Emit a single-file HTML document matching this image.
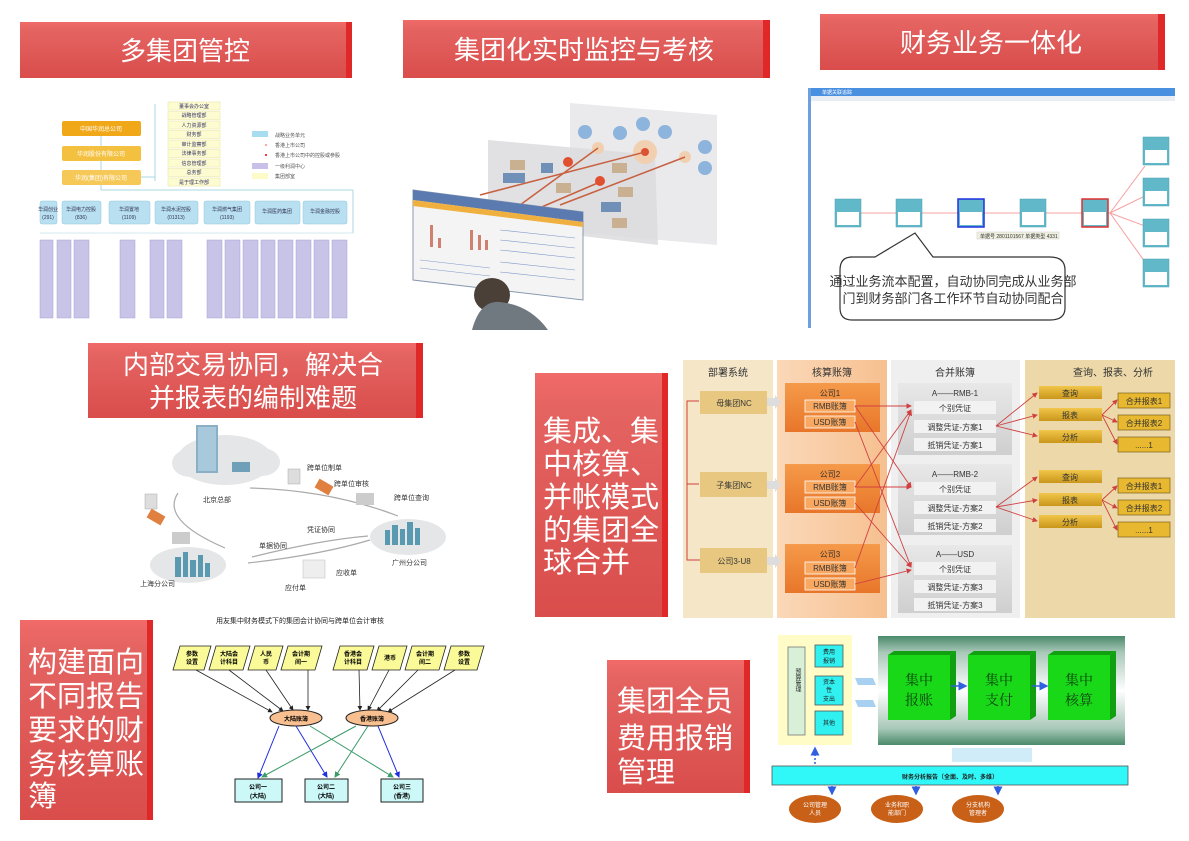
<!DOCTYPE html>
<html><head><meta charset="utf-8"><style>
html,body{margin:0;padding:0;background:#fff;}
svg{display:block;font-family:"Liberation Sans","Noto Sans CJK SC",sans-serif;}
</style></head><body>
<svg width="1189" height="841" viewBox="0 0 1189 841" xmlns="http://www.w3.org/2000/svg">
<defs>
<linearGradient id="rd" x1="0" y1="0" x2="0" y2="1"><stop offset="0" stop-color="#f06a68"/><stop offset="0.15" stop-color="#e46462"/><stop offset="1" stop-color="#d94d4b"/></linearGradient>
<linearGradient id="og" x1="0" y1="0" x2="0" y2="1"><stop offset="0" stop-color="#f59a4a"/><stop offset="1" stop-color="#e8762a"/></linearGradient>
<linearGradient id="gd" x1="0" y1="0" x2="0" y2="1"><stop offset="0" stop-color="#f0c64a"/><stop offset="1" stop-color="#c9961a"/></linearGradient>
<linearGradient id="gr" x1="0" y1="0" x2="0" y2="1"><stop offset="0" stop-color="#e8e8e8"/><stop offset="1" stop-color="#cfcfcf"/></linearGradient>
<linearGradient id="stripe" x1="0" y1="0" x2="0" y2="1"><stop offset="0" stop-color="#4a8a6a"/><stop offset="0.15" stop-color="#a8c8b8"/><stop offset="0.5" stop-color="#ffffff"/><stop offset="0.85" stop-color="#a8c8b8"/><stop offset="1" stop-color="#4a8a6a"/></linearGradient>
<linearGradient id="c2" x1="0" y1="0" x2="1" y2="0"><stop offset="0" stop-color="#fbd8b8"/><stop offset="1" stop-color="#f6c090"/></linearGradient>
<marker id="ar" markerWidth="6" markerHeight="6" refX="5" refY="3" orient="auto"><path d="M0,0L6,3L0,6z" fill="#d04040"/></marker>
<marker id="ak" markerWidth="6" markerHeight="6" refX="5" refY="3" orient="auto"><path d="M0,0L6,3L0,6z" fill="#222"/></marker>
<marker id="ab" markerWidth="6" markerHeight="6" refX="5" refY="3" orient="auto"><path d="M0,0L6,3L0,6z" fill="#2030e0"/></marker>
<marker id="ag" markerWidth="6" markerHeight="6" refX="5" refY="3" orient="auto"><path d="M0,0L6,3L0,6z" fill="#3a9a6a"/></marker>
<marker id="abl" markerWidth="6" markerHeight="6" refX="5" refY="3" orient="auto"><path d="M0,0L6,3L0,6z" fill="#3060e0"/></marker>
</defs>

<!-- Banners -->
<g>
<rect x="20" y="22" width="330" height="56" fill="url(#rd)"/><rect x="346" y="22" width="6" height="56" fill="#e02828"/>
<text x="185" y="60" font-size="26" fill="#fff" text-anchor="middle">多集团管控</text>
<rect x="403" y="20" width="362" height="58" fill="url(#rd)"/><rect x="763" y="20" width="7" height="58" fill="#e02828"/>
<text x="584" y="59" font-size="26" fill="#fff" text-anchor="middle">集团化实时监控与考核</text>
<rect x="820" y="14" width="340" height="56" fill="url(#rd)"/><rect x="1158" y="14" width="7" height="56" fill="#e02828"/>
<text x="991" y="52" font-size="26" fill="#fff" text-anchor="middle">财务业务一体化</text>
<rect x="88" y="343" width="330" height="75" fill="url(#rd)"/><rect x="416" y="343" width="7" height="75" fill="#e02828"/>
<text x="253" y="374" font-size="26" fill="#fff" text-anchor="middle">内部交易协同，解决合</text>
<text x="253" y="407" font-size="26" fill="#fff" text-anchor="middle">并报表的编制难题</text>
<rect x="535" y="373" width="128" height="244" fill="url(#rd)"/><rect x="662" y="373" width="6" height="244" fill="#e02828"/>
<g font-size="29" fill="#fff"><text x="543" y="441">集成、集</text><text x="543" y="474">中核算、</text><text x="543" y="507">并帐模式</text><text x="543" y="540">的集团全</text><text x="543" y="572">球合并</text></g>
<rect x="20" y="620" width="128" height="200" fill="url(#rd)"/><rect x="147" y="620" width="6" height="200" fill="#e02828"/>
<g font-size="29" fill="#fff"><text x="28" y="672">构建面向</text><text x="28" y="706">不同报告</text><text x="28" y="740">要求的财</text><text x="28" y="774">务核算账</text><text x="28" y="806">簿</text></g>
<rect x="607" y="660" width="138" height="133" fill="url(#rd)"/><rect x="744" y="660" width="6" height="133" fill="#e02828"/>
<g font-size="29" fill="#fff"><text x="617" y="711">集团全员</text><text x="617" y="748">费用报销</text><text x="617" y="782">管理</text></g>
</g>

<!-- Top-left org chart -->
<g font-size="6" fill="#555">
<line x1="101" y1="135" x2="101" y2="190" stroke="#a8d8e0"/>
<line x1="101" y1="190" x2="353" y2="190" stroke="#a8d8e0"/>
<line x1="140" y1="177" x2="155" y2="177" stroke="#a8d8e0"/><line x1="155" y1="104" x2="155" y2="181" stroke="#a8d8e0"/>
<rect x="62" y="121" width="79" height="15" rx="2" fill="#f0a818"/><text x="101" y="131" text-anchor="middle" fill="#fff">中国华润总公司</text>
<rect x="62" y="146" width="79" height="15" rx="2" fill="#f4c040"/><text x="101" y="156" text-anchor="middle" fill="#fff">华润股份有限公司</text>
<rect x="62" y="170" width="79" height="15" rx="2" fill="#f6c858"/><text x="101" y="180" text-anchor="middle" fill="#fff">华润(集团)有限公司</text>
<g fill="#fdfbd0" stroke="#e8e4a0" stroke-width="0.5">
<rect x="168" y="102" width="52" height="8"/><rect x="168" y="111.5" width="52" height="8"/><rect x="168" y="121" width="52" height="8"/><rect x="168" y="130.5" width="52" height="8"/><rect x="168" y="140" width="52" height="8"/><rect x="168" y="149.5" width="52" height="8"/><rect x="168" y="159" width="52" height="8"/><rect x="168" y="168.5" width="52" height="8"/><rect x="168" y="178" width="52" height="8"/></g>
<g font-size="5" fill="#336" text-anchor="middle"><text x="194" y="108">董事会办公室</text><text x="194" y="117">战略管理部</text><text x="194" y="127">人力资源部</text><text x="194" y="136">财务部</text><text x="194" y="146">审计监察部</text><text x="194" y="155">法律事务部</text><text x="194" y="165">信息管理部</text><text x="194" y="174">总务部</text><text x="194" y="184">是于理工作部</text></g>
<rect x="252" y="131" width="16" height="6" fill="#a8dcf0"/><text x="275" y="137" font-size="5">战略业务单元</text>
<text x="275" y="147" font-size="5">香港上市公司</text><circle cx="266" cy="145" r="1" fill="#f88"/>
<text x="275" y="157" font-size="5">香港上市公司中的控股或参股</text><circle cx="266" cy="155" r="1" fill="#e00"/>
<rect x="252" y="163" width="16" height="6" fill="#c8c0e8"/><text x="275" y="168" font-size="5">一级利润中心</text>
<rect x="252" y="173" width="16" height="6" fill="#fdfbc8"/><text x="275" y="178" font-size="5">集团部室</text>
<g fill="#b8e0f0" stroke="#90c8e0" stroke-width="0.5">
<rect x="40" y="201" width="17" height="23" rx="2"/><rect x="62" y="201" width="39" height="23" rx="2"/><rect x="109" y="201" width="41" height="23" rx="2"/><rect x="155" y="201" width="43" height="23" rx="2"/><rect x="204" y="201" width="46" height="23" rx="2"/><rect x="255" y="201" width="45" height="23" rx="2"/><rect x="303" y="201" width="44" height="23" rx="2"/></g>
<g font-size="5" text-anchor="middle" fill="#335"><text x="48" y="211">华润创业</text><text x="48" y="219">(291)</text><text x="81" y="211">华润电力控股</text><text x="81" y="219">(836)</text><text x="129" y="211">华润置地</text><text x="129" y="219">(1109)</text><text x="176" y="211">华润水泥控股</text><text x="176" y="219">(01313)</text><text x="227" y="211">华润燃气集团</text><text x="227" y="219">(1193)</text><text x="277" y="213">华润医药集团</text><text x="325" y="213">华润金融控股</text></g>
<line x1="353" y1="190" x2="353" y2="233" stroke="#a8d8e0"/>
<g fill="#c8c4e8" stroke="#a8a0d0" stroke-width="0.5">
<rect x="40" y="240" width="13" height="78"/><rect x="57" y="240" width="14" height="78"/><rect x="74" y="240" width="15" height="78"/>
<rect x="120" y="240" width="15" height="78"/><rect x="150" y="240" width="14" height="78"/><rect x="167" y="240" width="15" height="78"/>
<rect x="207" y="240" width="15" height="78"/><rect x="225" y="240" width="15" height="78"/><rect x="243" y="240" width="15" height="78"/><rect x="261" y="240" width="14" height="78"/><rect x="278" y="240" width="15" height="78"/><rect x="296" y="240" width="15" height="78"/><rect x="314" y="240" width="15" height="78"/><rect x="332" y="240" width="15" height="78"/></g>
<line x1="40" y1="233" x2="353" y2="233" stroke="#d0e8ee"/>
</g>

<!-- Top-middle monitoring image -->
<g>
<polygon points="570,103 717,115 717,245 570,232" fill="#e8e8ea" opacity="0.9"/>
<polygon points="488,140 655,155 658,245 488,225" fill="#dcdcde" opacity="0.85"/>
<g fill="#8cb4dc"><circle cx="585" cy="132" r="7"/><circle cx="620" cy="133" r="7"/><circle cx="643" cy="124" r="7"/><circle cx="665" cy="132" r="7"/><circle cx="705" cy="147" r="7"/><circle cx="705" cy="168" r="7"/></g>
<circle cx="645" cy="152" r="12" fill="#f0d0b0"/><circle cx="645" cy="152" r="4" fill="#e05030"/>
<circle cx="598" cy="148" r="6" fill="#f0d0b0"/><circle cx="685" cy="157" r="6" fill="#f0d0b0"/>
<g stroke="#c86040" stroke-width="1.5"><line x1="480" y1="195" x2="645" y2="152"/><line x1="520" y1="205" x2="598" y2="148"/><line x1="560" y1="205" x2="685" y2="157"/><line x1="530" y1="212" x2="600" y2="182"/></g>
<g fill="#c8b090"><rect x="510" y="160" width="15" height="10"/><rect x="612" y="163" width="15" height="10"/><rect x="556" y="183" width="15" height="10"/><rect x="618" y="187" width="15" height="10"/><rect x="612" y="218" width="15" height="10"/></g>
<g fill="#7090b8"><rect x="503" y="173" width="22" height="10"/><rect x="541" y="163" width="12" height="10"/><rect x="601" y="202" width="20" height="10"/></g>
<circle cx="568" cy="162" r="5" fill="#e05030"/><circle cx="600" cy="181" r="5" fill="#e05030"/>
<polygon points="413,190 583,212 583,300 413,280" fill="#f4f4f4" stroke="#8898b0"/>
<polygon points="413,190 583,212 583,222 413,200" fill="#5a7ab0"/>
<polygon points="413,200 583,222 583,227 413,206" fill="#f0b040"/>
<g fill="#d08070"><rect x="430" y="225" width="3" height="22"/><rect x="438" y="238" width="3" height="10"/><rect x="470" y="230" width="3" height="20"/><rect x="478" y="235" width="3" height="15"/><rect x="485" y="240" width="3" height="10"/></g>
<g stroke="#8098c8" stroke-width="0.6"><line x1="500" y1="230" x2="575" y2="238"/><line x1="500" y1="240" x2="575" y2="248"/><line x1="500" y1="250" x2="575" y2="258"/><line x1="500" y1="262" x2="575" y2="270"/><line x1="500" y1="272" x2="575" y2="280"/><line x1="420" y1="260" x2="490" y2="268"/><line x1="420" y1="268" x2="490" y2="276"/></g>
<ellipse cx="492" cy="295" rx="18" ry="17" fill="#4a4038"/>
<path d="M472,330 Q480,300 500,302 Q530,305 548,330 Z" fill="#707880"/>
</g>

<!-- Top-right screenshot -->
<g>
<rect x="808" y="88" width="367" height="240" fill="#fff"/>
<rect x="808" y="88" width="367" height="8" fill="#4a90e0"/>
<rect x="808" y="96" width="367" height="5" fill="#e8eef4"/>
<rect x="808" y="88" width="3" height="240" fill="#6ea0e0"/>
<text x="822" y="94" font-size="5" fill="#fff">单据关联追踪</text>
<g stroke="#f4a0a0" stroke-width="1"><line x1="861" y1="213" x2="1110" y2="213"/><line x1="1110" y1="213" x2="1145" y2="166"/><line x1="1110" y1="213" x2="1145" y2="196"/><line x1="1110" y1="213" x2="1145" y2="226"/><line x1="1110" y1="213" x2="1145" y2="262"/></g>
<g fill="#60b8c8" stroke="#4aa0b0" stroke-width="0.5">
<rect x="835" y="199" width="26" height="28"/><rect x="896" y="199" width="26" height="28"/><rect x="958" y="199" width="26" height="28"/><rect x="1020" y="199" width="26" height="28"/><rect x="1082" y="199" width="26" height="28"/>
<rect x="1143" y="137" width="26" height="28"/><rect x="1143" y="178" width="26" height="28"/><rect x="1143" y="219" width="26" height="28"/><rect x="1143" y="259" width="26" height="28"/></g>
<rect x="958" y="199" width="26" height="28" fill="none" stroke="#2030e0" stroke-width="1.5"/>
<rect x="1082" y="199" width="26" height="28" fill="none" stroke="#e03030" stroke-width="1.5"/>
<g fill="#fff"><rect x="837" y="212" width="22" height="13"/><rect x="898" y="212" width="22" height="13"/><rect x="960" y="212" width="22" height="13"/><rect x="1022" y="212" width="22" height="13"/><rect x="1084" y="212" width="22" height="13"/><rect x="1145" y="150" width="22" height="13"/><rect x="1145" y="191" width="22" height="13"/><rect x="1145" y="232" width="22" height="13"/><rect x="1145" y="272" width="22" height="13"/></g>
<rect x="977" y="232" width="82" height="7" fill="#f0f0e0" stroke="#ccc" stroke-width="0.5"/>
<text x="980" y="238" font-size="5" fill="#333">单据号 2801101567 单据类型 4331</text>
<path d="M850,257 L875,257 L915,233 L933,257 L1050,257 Q1065,257 1065,270 L1065,308 Q1065,320 1050,320 L852,320 Q840,320 840,308 L840,270 Q840,257 852,257 Z" fill="#fff" stroke="#333" stroke-width="1.2"/>
<text x="953" y="286" font-size="13" fill="#333" text-anchor="middle">通过业务流本配置，自动协同完成从业务部</text>
<text x="953" y="303" font-size="13" fill="#333" text-anchor="middle">门到财务部门各工作环节自动协同配合</text>
</g>

<!-- Middle-left network image -->
<g font-size="7" fill="#333">
<ellipse cx="225" cy="460" rx="48" ry="25" fill="#e4e6e8"/><ellipse cx="190" cy="463" rx="18" ry="14" fill="#e4e6e8"/><ellipse cx="262" cy="462" rx="18" ry="14" fill="#e4e6e8"/>
<rect x="196" y="425" width="22" height="48" fill="#8ab0c8"/><rect x="198" y="427" width="18" height="44" fill="#a8c8dc"/>
<rect x="232" y="462" width="18" height="10" fill="#70a0b8"/>
<text x="203" y="502">北京总部</text>
<ellipse cx="188" cy="565" rx="38" ry="18" fill="#e4e6e8"/>
<g fill="#5a9ab0"><rect x="175" y="557" width="6" height="20"/><rect x="183" y="552" width="5" height="25"/><rect x="190" y="560" width="6" height="17"/><rect x="198" y="555" width="5" height="22"/><rect x="205" y="563" width="5" height="14"/></g>
<text x="140" y="586">上海分公司</text>
<ellipse cx="408" cy="537" rx="38" ry="18" fill="#e4e6e8"/>
<g fill="#5a9ab0"><rect x="385" y="530" width="5" height="15"/><rect x="392" y="525" width="6" height="20"/><rect x="400" y="529" width="5" height="16"/><rect x="407" y="522" width="6" height="23"/><rect x="415" y="528" width="5" height="17"/></g>
<text x="392" y="565">广州分公司</text>
<g fill="none" stroke="#aaa" stroke-width="1.2">
<path d="M178,493 Q160,520 225,548"/><path d="M250,488 Q330,490 398,516"/><path d="M252,557 Q320,540 368,536"/><path d="M248,563 Q320,555 370,540"/></g>
<rect x="145" y="494" width="12" height="15" fill="#ddd" stroke="#aaa" stroke-width="0.5"/>
<rect x="148" y="512" width="16" height="10" fill="#e08040" transform="rotate(30 156 517)"/>
<rect x="172" y="532" width="18" height="12" fill="#ccc"/>
<rect x="288" y="469" width="12" height="15" fill="#ddd" stroke="#aaa" stroke-width="0.5"/>
<rect x="316" y="482" width="16" height="10" fill="#e08040" transform="rotate(30 324 487)"/>
<rect x="356" y="493" width="18" height="12" fill="#ccc"/>
<text x="307" y="470">跨单位制单</text><text x="334" y="486">跨单位审核</text><text x="394" y="500">跨单位查询</text>
<text x="307" y="532">凭证协同</text><text x="259" y="548">单据协同</text>
<rect x="303" y="560" width="22" height="18" fill="#eee" stroke="#bbb" stroke-width="0.5"/>
<text x="336" y="575">应收单</text><text x="285" y="590">应付单</text>
</g>

<!-- Bottom-left diagram -->
<g font-size="6" fill="#000">
<text x="300" y="623" font-size="7" text-anchor="middle" fill="#222">用友集中财务模式下的集团会计协同与跨单位会计审核</text>
<g fill="#fafa98" stroke="#222" stroke-width="0.8">
<polygon points="180,646 211,646 204,670 173,670"/><polygon points="216,646 250,646 243,670 209,670"/><polygon points="255,646 283,646 276,670 248,670"/><polygon points="288,646 322,646 315,670 281,670"/>
<polygon points="340,646 374,646 367,670 333,670"/><polygon points="379,646 407,646 400,670 372,670"/><polygon points="412,646 446,646 439,670 405,670"/><polygon points="451,646 484,646 477,670 444,670"/></g>
<g text-anchor="middle" font-weight="bold"><text x="192" y="656">参数</text><text x="192" y="664">设置</text><text x="229" y="656">大陆会</text><text x="229" y="664">计科目</text><text x="266" y="656">人民</text><text x="266" y="664">币</text><text x="301" y="656">会计期</text><text x="301" y="664">间一</text>
<text x="353" y="656">香港会</text><text x="353" y="664">计科目</text><text x="390" y="660">港币</text><text x="425" y="656">会计期</text><text x="425" y="664">间二</text><text x="464" y="656">参数</text><text x="464" y="664">设置</text></g>
<g stroke="#222" stroke-width="0.8" marker-end="url(#ak)"><line x1="196" y1="670" x2="272" y2="712"/><line x1="229" y1="670" x2="283" y2="711"/><line x1="266" y1="670" x2="293" y2="710"/><line x1="308" y1="670" x2="308" y2="710"/>
<line x1="359" y1="670" x2="360" y2="710"/><line x1="389" y1="670" x2="368" y2="710"/><line x1="418" y1="670" x2="377" y2="711"/><line x1="455" y1="670" x2="388" y2="712"/></g>
<ellipse cx="296" cy="718" rx="26" ry="8" fill="#f8c090" stroke="#222"/><text x="296" y="721" text-anchor="middle" font-weight="bold">大陆账簿</text>
<ellipse cx="372" cy="718" rx="26" ry="8" fill="#f8c090" stroke="#222"/><text x="372" y="721" text-anchor="middle" font-weight="bold">香港账簿</text>
<g stroke="#2030e0" stroke-width="1" marker-end="url(#ab)"><line x1="279" y1="726" x2="258" y2="778"/><line x1="296" y1="726" x2="327" y2="777"/><line x1="378" y1="726" x2="399" y2="777"/></g>
<g stroke="#3a9a6a" stroke-width="1" marker-end="url(#ag)"><line x1="310" y1="726" x2="393" y2="777"/><line x1="356" y1="726" x2="262" y2="777"/><line x1="368" y1="726" x2="335" y2="777"/></g>
<g fill="#ccf8f8" stroke="#222"><rect x="235" y="779" width="47" height="23"/><rect x="305" y="779" width="43" height="23"/><rect x="381" y="779" width="42" height="23"/></g>
<g text-anchor="middle" font-weight="bold"><text x="258" y="789">公司一</text><text x="258" y="798">(大陆)</text><text x="326" y="789">公司二</text><text x="326" y="798">(大陆)</text><text x="402" y="789">公司三</text><text x="402" y="798">(香港)</text></g>
</g>

<!-- Middle-right chart -->
<g font-size="8" fill="#333">
<rect x="683" y="360" width="90" height="258" fill="#f5e6c8"/>
<rect x="777" y="360" width="110" height="258" fill="url(#c2)"/>
<rect x="891" y="360" width="129" height="258" fill="#efefef"/>
<rect x="1025" y="360" width="150" height="258" fill="#ecd8a8"/>
<g font-size="10" text-anchor="middle"><text x="728" y="376">部署系统</text><text x="832" y="376">核算账簿</text><text x="955" y="376">合并账簿</text><text x="1113" y="376">查询、报表、分析</text></g>
<g fill="#e8c880"><rect x="700" y="391" width="67" height="23"/><rect x="700" y="472" width="67" height="25"/><rect x="700" y="548" width="67" height="25"/></g>
<g text-anchor="middle"><text x="734" y="406">母集团NC</text><text x="734" y="488">子集团NC</text><text x="734" y="564">公司3-U8</text></g>
<path d="M700,560 L687,560 L687,401 L699,401 M687,484 L699,484" fill="none" stroke="#d04040" stroke-width="1"/>
<g fill="#dddddd"><polygon points="767,398 775,398 775,395 781,402 775,409 775,406 767,406"/><polygon points="767,481 775,481 775,478 781,485 775,492 775,489 767,489"/><polygon points="767,557 775,557 775,554 781,561 775,568 775,565 767,565"/></g>
<g fill="url(#og)"><rect x="785" y="383" width="95" height="49"/><rect x="785" y="464" width="95" height="49"/><rect x="785" y="544" width="95" height="49"/></g>
<g fill="#f8a860" stroke="#fff" stroke-width="0.8"><rect x="805" y="400" width="50" height="12"/><rect x="805" y="416" width="50" height="12"/><rect x="805" y="481" width="50" height="12"/><rect x="805" y="497" width="50" height="12"/><rect x="805" y="562" width="50" height="12"/><rect x="805" y="578" width="50" height="12"/></g>
<g text-anchor="middle"><text x="830" y="396">公司1</text><text x="830" y="409">RMB账簿</text><text x="830" y="425">USD账簿</text><text x="830" y="477">公司2</text><text x="830" y="490">RMB账簿</text><text x="830" y="506">USD账簿</text><text x="830" y="557">公司3</text><text x="830" y="571">RMB账簿</text><text x="830" y="587">USD账簿</text></g>
<g fill="url(#gr)"><rect x="898" y="383" width="114" height="72"/><rect x="898" y="464" width="114" height="71"/><rect x="898" y="545" width="114" height="68"/></g>
<g fill="#f2f2f2"><rect x="914" y="401" width="82" height="13"/><rect x="914" y="420" width="82" height="13"/><rect x="914" y="438" width="82" height="13"/><rect x="914" y="482" width="82" height="13"/><rect x="914" y="501" width="82" height="13"/><rect x="914" y="519" width="82" height="13"/><rect x="914" y="562" width="82" height="13"/><rect x="914" y="580" width="82" height="13"/><rect x="914" y="598" width="82" height="13"/></g>
<g text-anchor="middle"><text x="955" y="396">A——RMB-1</text><text x="955" y="411">个别凭证</text><text x="955" y="430">调整凭证-方案1</text><text x="955" y="448">抵销凭证-方案1</text>
<text x="955" y="477">A——RMB-2</text><text x="955" y="492">个别凭证</text><text x="955" y="511">调整凭证-方案2</text><text x="955" y="529">抵销凭证-方案2</text>
<text x="955" y="557">A——USD</text><text x="955" y="572">个别凭证</text><text x="955" y="590">调整凭证-方案3</text><text x="955" y="608">抵销凭证-方案3</text></g>
<g stroke="#d04040" stroke-width="0.9" marker-end="url(#ar)" fill="none">
<line x1="855" y1="406" x2="911" y2="406"/><line x1="855" y1="406" x2="911" y2="487"/><line x1="855" y1="422" x2="911" y2="567"/>
<line x1="855" y1="487" x2="911" y2="410"/><line x1="855" y1="487" x2="911" y2="487"/><line x1="855" y1="503" x2="911" y2="567"/>
<line x1="855" y1="568" x2="911" y2="411"/><line x1="855" y1="584" x2="911" y2="570"/>
<line x1="996" y1="426" x2="1037" y2="393"/><line x1="996" y1="426" x2="1037" y2="415"/><line x1="996" y1="426" x2="1037" y2="436"/>
<line x1="1102" y1="415" x2="1117" y2="400"/><line x1="1102" y1="415" x2="1117" y2="422"/><line x1="1102" y1="415" x2="1117" y2="444"/>
<line x1="996" y1="507" x2="1037" y2="477"/><line x1="996" y1="507" x2="1037" y2="500"/><line x1="996" y1="507" x2="1037" y2="521"/>
<line x1="1102" y1="500" x2="1117" y2="486"/><line x1="1102" y1="500" x2="1117" y2="508"/><line x1="1102" y1="500" x2="1117" y2="530"/></g>
<g fill="url(#gd)"><rect x="1039" y="386" width="63" height="13"/><rect x="1039" y="408" width="63" height="13"/><rect x="1039" y="430" width="63" height="13"/><rect x="1039" y="470" width="63" height="13"/><rect x="1039" y="493" width="63" height="13"/><rect x="1039" y="515" width="63" height="13"/></g>
<g fill="#e8b830" stroke="#6a5010" stroke-width="0.6"><rect x="1118" y="393" width="52" height="15"/><rect x="1118" y="415" width="52" height="15"/><rect x="1118" y="437" width="52" height="15"/><rect x="1118" y="478" width="52" height="15"/><rect x="1118" y="500" width="52" height="15"/><rect x="1118" y="522" width="52" height="15"/></g>
<g text-anchor="middle"><text x="1070" y="396">查询</text><text x="1070" y="418">报表</text><text x="1070" y="440">分析</text><text x="1070" y="480">查询</text><text x="1070" y="503">报表</text><text x="1070" y="525">分析</text>
<text x="1144" y="404">合并报表1</text><text x="1144" y="426">合并报表2</text><text x="1144" y="448">......1</text><text x="1144" y="489">合并报表1</text><text x="1144" y="511">合并报表2</text><text x="1144" y="533">......1</text></g>
</g>

<!-- Bottom-right -->
<g font-size="6" fill="#222">
<rect x="778" y="635" width="74" height="110" fill="#fffcc8"/>
<rect x="788" y="647" width="17" height="88" fill="#d8f0d8" stroke="#777" stroke-width="0.8"/>
<text x="797" y="680" text-anchor="middle" writing-mode="tb">预算管理</text>
<g fill="#30f0f0" stroke="#555" stroke-width="0.8"><rect x="815" y="645" width="28" height="22"/><rect x="815" y="676" width="28" height="29"/><rect x="815" y="711" width="28" height="24"/></g>
<g text-anchor="middle"><text x="829" y="654">费用</text><text x="829" y="663">报销</text><text x="829" y="684">资本</text><text x="829" y="692">性</text><text x="829" y="701">支出</text><text x="829" y="725">其他</text></g>
<polygon points="855,678 873,678 876,685 858,685" fill="#a8d0f0"/><polygon points="855,700 873,700 876,707 858,707" fill="#a8d0f0"/>
<rect x="878" y="636" width="247" height="109" fill="url(#stripe)"/>
<g fill="#18d818"><rect x="888" y="655" width="62" height="65"/><rect x="968" y="655" width="62" height="65"/><rect x="1048" y="655" width="62" height="65"/></g>
<g fill="#10a010"><polygon points="888,655 894,651 956,651 950,655"/><polygon points="950,655 956,651 956,716 950,720"/><polygon points="968,655 974,651 1036,651 1030,655"/><polygon points="1030,655 1036,651 1036,716 1030,720"/><polygon points="1048,655 1054,651 1116,651 1110,655"/><polygon points="1110,655 1116,651 1116,716 1110,720"/></g>
<g font-size="14" text-anchor="middle" fill="#104010" font-family="'Noto Serif CJK SC',serif"><text x="919" y="685">集中</text><text x="919" y="705">报账</text><text x="999" y="685">集中</text><text x="999" y="705">支付</text><text x="1079" y="685">集中</text><text x="1079" y="705">核算</text></g>
<g stroke="#3060e0" stroke-width="1.5" marker-end="url(#abl)"><line x1="951" y1="686" x2="966" y2="686"/><line x1="1032" y1="686" x2="1047" y2="686"/></g>
<rect x="952" y="748" width="80" height="14" fill="#d0ecf8"/>
<line x1="815" y1="764" x2="815" y2="748" stroke="#3060e0" stroke-width="1.5" stroke-dasharray="2,2" marker-end="url(#abl)"/>
<rect x="772" y="766" width="356" height="19" fill="#30f8f8" stroke="#555" stroke-width="0.8"/>
<text x="950" y="779" text-anchor="middle" font-weight="bold">财务分析报告（全面、及时、多维）</text>
<g stroke="#3060e0" stroke-width="1.5" marker-end="url(#abl)"><line x1="832" y1="786" x2="832" y2="794"/><line x1="916" y1="786" x2="916" y2="794"/><line x1="998" y1="786" x2="998" y2="794"/></g>
<g fill="#c86018"><ellipse cx="815" cy="809" rx="26" ry="14"/><ellipse cx="897" cy="809" rx="26" ry="14"/><ellipse cx="978" cy="809" rx="26" ry="14"/></g>
<g text-anchor="middle" fill="#fff"><text x="815" y="807">公司管理</text><text x="815" y="815">人员</text><text x="897" y="807">业务和职</text><text x="897" y="815">能部门</text><text x="978" y="807">分支机构</text><text x="978" y="815">管理者</text></g>
</g>
</svg>
</body></html>
